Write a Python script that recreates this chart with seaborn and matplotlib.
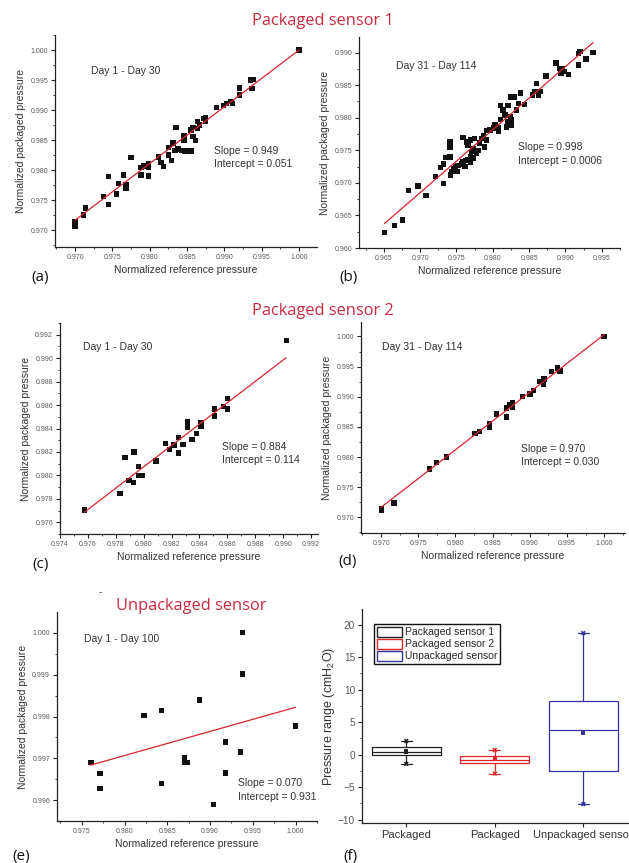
import matplotlib
matplotlib.use("Agg")
import matplotlib.pyplot as plt
from matplotlib.ticker import MultipleLocator, AutoMinorLocator, FormatStrFormatter
from matplotlib.patches import Patch
import numpy as np
import pandas as pd
import seaborn as sns

# (a) packaged sensor 1, day 1 - day 30
a_ref = [0.9700, 0.9700, 0.9711, 0.9714, 0.9738, 0.9745, 0.9745, 0.9755, 0.9758, 0.9765,
         0.9768, 0.9768, 0.9775, 0.9788, 0.9788, 0.9792, 0.9798, 0.9798, 0.9798, 0.9812,
         0.9815, 0.9818, 0.9825, 0.9829, 0.9825, 0.9831, 0.9835, 0.9834, 0.9838, 0.9843,
         0.9847, 0.9852, 0.9856, 0.9846, 0.9846, 0.9855, 0.9858, 0.9861, 0.9858, 0.9864,
         0.9864, 0.9867, 0.9872, 0.9875, 0.9875, 0.9889, 0.9899, 0.9903, 0.9909, 0.9911,
         0.9920, 0.9920, 0.9935, 0.9939, 0.9937, 1.0000]
a_pkg = [0.9714, 0.9706, 0.9725, 0.9737, 0.9756, 0.9743, 0.9789, 0.9760, 0.9778, 0.9792,
         0.9775, 0.9770, 0.9821, 0.9804, 0.9792, 0.9807, 0.9811, 0.9790, 0.9805, 0.9822,
         0.9813, 0.9806, 0.9825, 0.9816, 0.9838, 0.9845, 0.9871, 0.9833, 0.9835, 0.9833,
         0.9832, 0.9832, 0.9832, 0.9850, 0.9858, 0.9867, 0.9856, 0.9849, 0.9871, 0.9881,
         0.9869, 0.9875, 0.9886, 0.9881, 0.9888, 0.9904, 0.9908, 0.9911, 0.9914, 0.9911,
         0.9937, 0.9925, 0.9950, 0.9951, 0.9936, 1.0000]
a_fit_x = [0.9700, 1.0000]
a_fit_y = [0.97167, 1.0000]

# (b) packaged sensor 1, day 31 - day 114
b_ref = [0.9651, 0.9665, 0.9676, 0.9684, 0.9697, 0.9708, 0.9721, 0.9732, 0.9728, 0.9732,
         0.9735, 0.9741, 0.9741, 0.9741, 0.9742, 0.9743, 0.9746, 0.9749, 0.9752, 0.9757,
         0.9759, 0.9763, 0.9766, 0.9769, 0.9759, 0.9764, 0.9766, 0.9769, 0.9771, 0.9773,
         0.9775, 0.9778, 0.9780, 0.9782, 0.9785, 0.9787, 0.9789, 0.9791, 0.9792, 0.9796,
         0.9801, 0.9803, 0.9808, 0.9808, 0.9811, 0.9811, 0.9814, 0.9817, 0.9819, 0.9821,
         0.9821, 0.9824, 0.9826, 0.9826, 0.9825, 0.9829, 0.9833, 0.9835, 0.9838, 0.9844,
         0.9855, 0.9858, 0.9860, 0.9863, 0.9865, 0.9873, 0.9887, 0.9892, 0.9894, 0.9896,
         0.9899, 0.9904, 0.9918, 0.9918, 0.9920, 0.9928, 0.9938, 0.9751, 0.9762, 0.9769,
         0.9773]
b_pkg = [0.9624, 0.9635, 0.9643, 0.9688, 0.9695, 0.9681, 0.9710, 0.9699, 0.9724, 0.9729,
         0.9739, 0.9740, 0.9755, 0.9764, 0.9712, 0.9717, 0.9722, 0.9725, 0.9727, 0.9729,
         0.9732, 0.9734, 0.9736, 0.9740, 0.9770, 0.9763, 0.9758, 0.9766, 0.9748, 0.9753,
         0.9768, 0.9745, 0.9750, 0.9761, 0.9768, 0.9773, 0.9755, 0.9766, 0.9780, 0.9781,
         0.9784, 0.9789, 0.9785, 0.9779, 0.9797, 0.9819, 0.9812, 0.9804, 0.9786, 0.9794,
         0.9819, 0.9802, 0.9789, 0.9797, 0.9832, 0.9832, 0.9812, 0.9822, 0.9838, 0.9820,
         0.9835, 0.9840, 0.9853, 0.9835, 0.9840, 0.9864, 0.9884, 0.9876, 0.9868, 0.9875,
         0.9871, 0.9866, 0.9881, 0.9899, 0.9902, 0.9890, 0.9900, 0.9717, 0.9725, 0.9732,
         0.9738]
b_fit_x = [0.9651, 0.9938]
b_fit_y = [0.96375, 0.99154]

# (c) packaged sensor 2, day 1 - day 30
c_ref = [0.97574, 0.97830, 0.97865, 0.97930, 0.97895, 0.97928, 0.97962, 0.97962, 0.97992,
         0.98088, 0.98155, 0.98185, 0.98217, 0.98250, 0.98250, 0.98283, 0.98315, 0.98315,
         0.98315, 0.98346, 0.98378, 0.98410, 0.98410, 0.98508, 0.98508, 0.98571, 0.98603,
         0.98603, 0.99022]
c_pkg = [0.97705, 0.97843, 0.98153, 0.98201, 0.97957, 0.97940, 0.98077, 0.97997, 0.97997,
         0.98122, 0.98272, 0.98221, 0.98258, 0.98323, 0.98192, 0.98266, 0.98456, 0.98428,
         0.98410, 0.98306, 0.98357, 0.98448, 0.98420, 0.98567, 0.98507, 0.98590, 0.98655,
         0.98567, 0.99151]
c_fit_x = [0.97574, 0.99022]
c_fit_y = [0.97685, 0.99004]

# (d) packaged sensor 2, day 31 - day 114
d_ref = [0.97009, 0.97009, 0.97175, 0.97649, 0.97748, 0.97883, 0.98263, 0.98321, 0.98455,
         0.98455, 0.98554, 0.98688, 0.98688, 0.98733, 0.98769, 0.98769, 0.98898, 0.99002,
         0.99046, 0.99136, 0.99181, 0.99190, 0.99293, 0.99369, 0.99405, 1.00000]
d_pkg = [0.97150, 0.97110, 0.97238, 0.97802, 0.97907, 0.98002, 0.98389, 0.98422, 0.98495,
         0.98545, 0.98711, 0.98666, 0.98811, 0.98865, 0.98899, 0.98821, 0.99003, 0.99043,
         0.99103, 0.99252, 0.99209, 0.99292, 0.99419, 0.99475, 0.99430, 1.00000]
d_fit_x = [0.9700, 1.0000]
d_fit_y = [0.97166, 1.0003]

# (e) unpackaged sensor, day 1 - day 100
e_ref = [0.97609, 0.97714, 0.97714, 0.98227, 0.98429, 0.98429, 0.98875, 0.98703, 0.98703,
         0.98738, 0.99180, 0.99180, 0.99042, 0.99352, 0.99382, 0.99382, 1.00000]
e_pkg = [0.99690, 0.99664, 0.99628, 0.99802, 0.99814, 0.99640, 0.99839, 0.99702, 0.99691,
         0.99691, 0.99739, 0.99665, 0.99590, 0.99715, 1.00000, 0.99901, 0.99777]
e_fit_x = [0.9760, 1.0000]
e_fit_y = [0.99684, 0.99822]

# (f) pressure range box plot
box_groups = ["Packaged sensor 1", "Packaged sensor 2", "Unpackaged sensor"]
box_ticklabels = ["Packaged", "Packaged", "Unpackaged sensor"]
box_low = [-1.4, -2.9, -7.6]
box_q1 = [-0.1, -1.33, -2.5]
box_median = [0.46, -0.77, 3.74]
box_q3 = [1.13, -0.26, 8.2]
box_high = [2.1, 0.72, 18.7]
box_mean = [0.5, -0.72, 3.4]
box_colors = ["#222222", "#e3242b", "#34349a"]

sns.set_style("ticks")
plt.rcParams["font.family"] = ["Liberation Sans", "DejaVu Sans"]
plt.rcParams["mathtext.default"] = "regular"

W, H = 629, 863
fig = plt.figure(figsize=(W / 100, H / 100), dpi=100)

def px_axes(l, t, r, b):
    return fig.add_axes([l / W, 1 - b / H, (r - l) / W, (b - t) / H])

def px_text(x, y, s, **kw):
    fig.text(x / W, 1 - y / H, s, **kw)

TICK_GREY = "#5a5a5a"
TEXT_GREY = "#333333"
RED_LINE = "#d9232f"
TITLE_RED = "#cb2a3e"

def style_axes(ax, xlim, ylim, xstep, ystep, fmt="%.3f", tick_fs=5):
    sns.despine(ax=ax)
    for sp in ["left", "bottom"]:
        ax.spines[sp].set_linewidth(0.9)
        ax.spines[sp].set_color("#222222")
    ax.set_xlim(*xlim)
    ax.set_ylim(*ylim)
    ax.xaxis.set_major_locator(MultipleLocator(xstep))
    ax.yaxis.set_major_locator(MultipleLocator(ystep))
    ax.xaxis.set_minor_locator(AutoMinorLocator(2))
    ax.yaxis.set_minor_locator(AutoMinorLocator(2))
    if fmt:
        ax.xaxis.set_major_formatter(FormatStrFormatter(fmt))
        ax.yaxis.set_major_formatter(FormatStrFormatter(fmt))
    ax.tick_params(which="major", direction="out", length=3, width=0.8,
                   labelsize=tick_fs, labelcolor=TICK_GREY, color="#222222", pad=2)
    ax.tick_params(which="minor", direction="out", length=1.6, width=0.6, color="#222222")

def scatter_panel(box, x, y, fx, fy, xlim, ylim, xstep, ystep):
    ax = px_axes(*box)
    sns.scatterplot(x=x, y=y, ax=ax, marker="s", s=15, color="#111111",
                    edgecolor="none", linewidth=0, zorder=3)
    sns.lineplot(x=fx, y=fy, ax=ax, color=RED_LINE, linewidth=0.9,
                 sort=False, estimator=None, zorder=4)
    style_axes(ax, xlim, ylim, xstep, ystep)
    ax.set_xlabel("Normalized reference pressure", fontsize=7.5, color=TEXT_GREY, labelpad=3)
    ax.set_ylabel("Normalized packaged pressure", fontsize=7.5, color=TEXT_GREY, labelpad=3)
    return ax

scatter_panel((55, 35, 317, 247), a_ref, a_pkg, a_fit_x, a_fit_y,
              (0.9673, 1.0024), (0.9672, 1.0025), 0.005, 0.005)
scatter_panel((359, 37, 620, 248), b_ref, b_pkg, b_fit_x, b_fit_y,
              (0.9616, 0.9975), (0.960, 0.9924), 0.005, 0.005)
scatter_panel((60, 323, 318, 534), c_ref, c_pkg, c_fit_x, c_fit_y,
              (0.974, 0.9925), (0.975, 0.993), 0.002, 0.002)
scatter_panel((361, 322, 625, 533), d_ref, d_pkg, d_fit_x, d_fit_y,
              (0.9673, 1.0028), (0.9674, 1.0024), 0.005, 0.005)
scatter_panel((57, 612, 317, 821), e_ref, e_pkg, e_fit_x, e_fit_y,
              (0.9721, 1.0025), (0.99551, 1.00049), 0.005, 0.001)

# box plot
axf = px_axes(362, 609, 632, 823)
df_box = pd.DataFrame({
    "sensor": np.repeat(box_groups, 5),
    "range": np.column_stack([box_low, box_q1, box_median, box_q3, box_high]).ravel(),
})
box_kw = dict(data=df_box, x="sensor", y="range", hue="sensor", palette=box_colors,
              fill=False, whis=(0, 100), width=0.78, linewidth=0.9, legend=False, ax=axf)
try:
    sns.boxplot(capwidths=0.12, **box_kw)
except TypeError:
    axf.cla()
    sns.boxplot(**box_kw)
sns.scatterplot(x=np.arange(3), y=box_mean, hue=box_groups, palette=box_colors,
                marker="s", s=9, edgecolor="none", legend=False, ax=axf, zorder=5)
for ends in (box_low, box_high):
    sns.scatterplot(x=np.arange(3), y=ends, hue=box_groups, palette=box_colors,
                    marker="X", s=12, edgecolor="none", legend=False, ax=axf, zorder=5)
style_axes(axf, (-0.5, 2.55), (-10.5, 22.4), 1, 5, fmt=None, tick_fs=7.3)
axf.xaxis.set_minor_locator(plt.NullLocator())
axf.set_xticks(range(3))
axf.set_xticklabels(box_ticklabels, fontsize=8, color=TEXT_GREY)
axf.set_xlabel("")
axf.set_ylabel("Pressure range (cmH$_2$O)", fontsize=9, color=TEXT_GREY, labelpad=1)
handles = [Patch(facecolor="white", edgecolor=c, linewidth=1, label=g)
           for g, c in zip(box_groups, box_colors)]
axf.legend(handles=handles, loc="upper left", bbox_to_anchor=(0.045, 0.93),
           fontsize=7.5, frameon=True, fancybox=False, edgecolor="#111111",
           framealpha=1, borderpad=0.25, labelspacing=0.15, handlelength=2.4,
           handleheight=1.1, handletextpad=0.3, borderaxespad=0)
axf.get_legend().get_frame().set_linewidth(1.0)

# annotations
ann = dict(fontsize=7.5, color=TEXT_GREY, va="center", ha="left")
px_text(91, 71, "Day 1 - Day 30", **ann)
px_text(214, 151, "Slope = 0.949", **ann)
px_text(214, 164, "Intercept = 0.051", **ann)
px_text(396, 66, "Day 31 - Day 114", **ann)
px_text(518, 147, "Slope = 0.998", **ann)
px_text(518, 161, "Intercept = 0.0006", **ann)
px_text(83, 347, "Day 1 - Day 30", **ann)
px_text(222, 447, "Slope = 0.884", **ann)
px_text(222, 460, "Intercept = 0.114", **ann)
px_text(382, 347, "Day 31 - Day 114", **ann)
px_text(521, 449, "Slope = 0.970", **ann)
px_text(521, 462, "Intercept = 0.030", **ann)
px_text(84, 639, "Day 1 - Day 100", **ann)
px_text(238, 783, "Slope = 0.070", **ann)
px_text(238, 797, "Intercept = 0.931", **ann)

# titles and panel letters
title_kw = dict(fontsize=11.8, color=TITLE_RED, ha="center", va="center",
                family=["Open Sans", "DejaVu Sans"])
px_text(323, 21, "Packaged sensor 1", **title_kw)
px_text(323, 311, "Packaged sensor 2", **title_kw)
px_text(191, 606, "Unpackaged sensor", **title_kw)
px_text(100, 592, "-", fontsize=7, color="#333333", ha="center", va="center")

lab_kw = dict(fontsize=11, color="#111111", ha="right", va="center",
              family=["Open Sans", "DejaVu Sans"])
px_text(49, 277, "(a)", **lab_kw)
px_text(358, 277, "(b)", **lab_kw)
px_text(49, 564, "(c)", **lab_kw)
px_text(357, 562, "(d)", **lab_kw)
px_text(30, 856, "(e)", **lab_kw)
px_text(357, 856, "(f)", **lab_kw)

fig.savefig("out.png", dpi=100)
